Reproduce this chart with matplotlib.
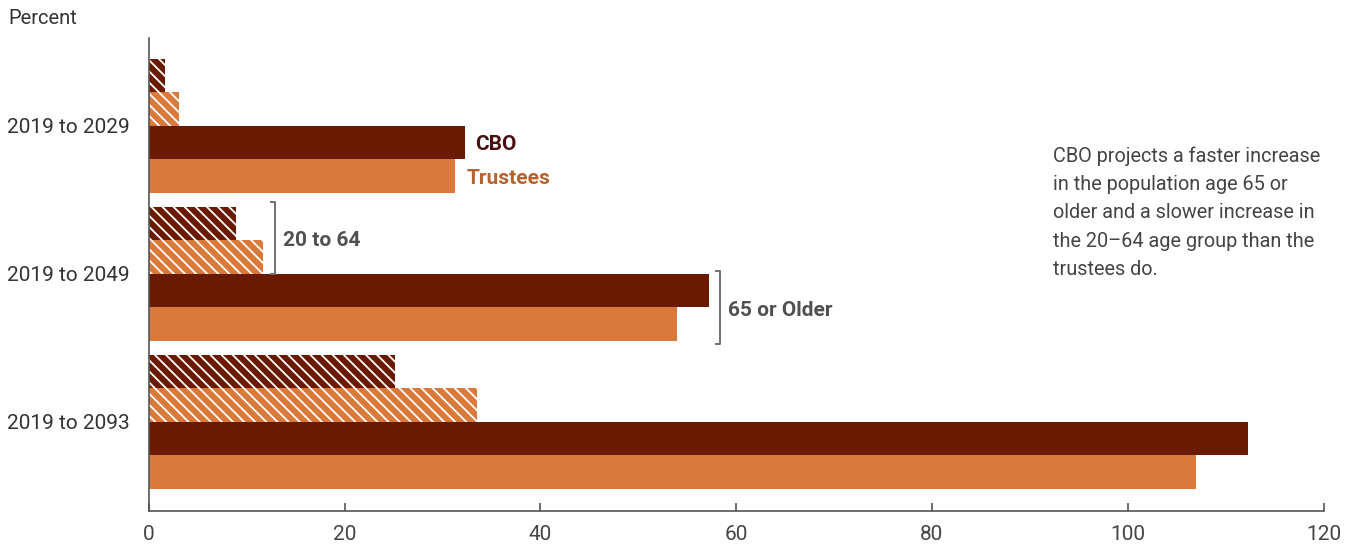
import matplotlib
matplotlib.use("Agg")
import matplotlib.pyplot as plt
import numpy as np

plt.rcParams['font.family'] = ['Roboto', 'DejaVu Sans']
plt.rcParams['hatch.linewidth'] = 1.3

periods = ["2019 to 2029", "2019 to 2049", "2019 to 2093"]
cbo_20_64 = [1.7, 8.9, 25.2]
trustees_20_64 = [3.1, 11.7, 33.5]
cbo_65 = [32.3, 57.2, 112.3]
trustees_65 = [31.3, 54.0, 107.0]
xticks = [0, 20, 40, 60, 80, 100, 120]

dark = '#6a1a00'
orange = '#d9793a'

fig = plt.figure(figsize=(13.52, 5.5), dpi=100)
ax = fig.add_axes([148.8/1352, 1-511/550, (1323.5-148.8)/1352, (511-38)/550])

y = np.arange(len(periods))
h = 0.2264
series = [
    (cbo_20_64, dark, '\\\\\\', -1.5),
    (trustees_20_64, orange, '\\\\\\', -0.5),
    (cbo_65, dark, None, 0.5),
    (trustees_65, orange, None, 1.5),
]
for vals, col, hatch, off in series:
    if hatch:
        ax.barh(y + off*h, vals, height=h, color=col, edgecolor='white',
                linewidth=0, hatch=hatch)
    else:
        ax.barh(y + off*h, vals, height=h, color=col, linewidth=0)

ax.set_xlim(0, 120)
ax.set_ylim(2.605, -0.595)
ax.set_yticks(y)
ax.set_yticklabels(periods, fontsize=15, color='#333333')
ax.tick_params(axis='y', length=0, pad=14)
ax.set_xticks(xticks)
ax.set_xticklabels([str(t) for t in xticks], fontsize=15, color='#444444')
ax.tick_params(axis='x', direction='in', length=6, width=1.2, color='#555555', pad=10)
for s in ['top', 'right']:
    ax.spines[s].set_visible(False)
for s in ['left', 'bottom']:
    ax.spines[s].set_color('#555555')
    ax.spines[s].set_linewidth(1.2)

# Series labels
ax.annotate('CBO', xy=(cbo_65[0], y[0] + 0.5*h), xytext=(7, -1), textcoords='offset points',
            fontsize=15, fontweight='bold', color='#4a1010', va='center', ha='left')
ax.annotate('Trustees', xy=(trustees_65[0], y[0] + 1.5*h), xytext=(8, -2), textcoords='offset points',
            fontsize=15, fontweight='bold', color='#b5622c', va='center', ha='left')

# Brackets
def bracket(xval, y0, y1, text):
    gray = '#707070'
    xb = xval
    ax.plot([xb - 0.5, xb, xb, xb - 0.5], [y0, y0, y1, y1], color=gray, lw=1.4,
            solid_capstyle='butt', clip_on=False)
    ax.annotate(text, xy=(xb, (y0 + y1)/2), xytext=(6, -2), textcoords='offset points',
                fontsize=15, fontweight='bold', color='#505050', va='center', ha='left')

bracket(trustees_20_64[1] + 1.2, y[1] - 2*h - 0.035, y[1], '20 to 64')
bracket(cbo_65[1] + 1.1, y[1] - 0.02, y[1] + 2*h + 0.02, '65 or Older')

fig.text(8/1352, 1-18/550, 'Percent', fontsize=14.5, color='#333333', va='center', ha='left')

fig.text(1053/1352, 1-146/550,
         'CBO projects a faster increase\nin the population age 65 or\nolder and a slower increase in\nthe 20\u201364 age group than the\ntrustees do.',
         fontsize=14.3, color='#444444', va='top', ha='left', linespacing=1.63)

fig.savefig('out.png', dpi=100)
